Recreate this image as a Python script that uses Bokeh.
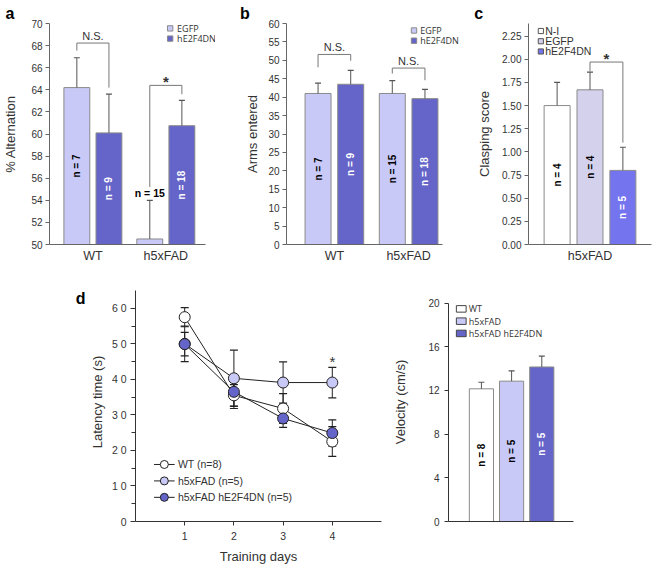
import numpy as np
from bokeh.plotting import figure
from bokeh.models import Range1d, FixedTicker, Title, NumeralTickFormatter
from bokeh.core.properties import value
from bokeh.layouts import row, column
from bokeh.embed import file_html
from bokeh.resources import INLINE

# ---------------- data ----------------
# panel a : % alternation
a_groups = ["WT", "h5xFAD"]
a_series = ["EGFP", "hE2F4DN"]
a_egfp = [64.2, 50.5]
a_egfp_err = [2.7, 3.5]
a_dn = [60.1, 60.75]
a_dn_err = [3.5, 2.3]
a_n_egfp = ["n = 7", "n = 15"]
a_n_dn = ["n = 9", "n = 18"]
a_sig = ["N.S.", "*"]
a_sig_level = [68.23, 64.4]
a_sig_left = [67.55, 55.2]
a_sig_right = [64.2, 63.6]

# panel b : arms entered
b_groups = ["WT", "h5xFAD"]
b_egfp = [41.0, 41.0]
b_egfp_err = [2.8, 3.5]
b_dn = [43.5, 39.6]
b_dn_err = [3.8, 2.5]
b_n_egfp = ["n = 7", "n = 15"]
b_n_dn = ["n = 9", "n = 18"]
b_sig = ["N.S.", "N.S."]
b_sig_level = [51.6, 47.9]
b_sig_left = [48.1, 46.4]
b_sig_right = [49.9, 44.6]

# panel c : clasping score
c_group = ["h5xFAD"]
c_series = ["N-I", "EGFP", "hE2F4DN"]
c_mean = [1.50, 1.67, 0.80]
c_err = [0.25, 0.19, 0.25]
c_n = ["n = 4", "n = 4", "n = 5"]
c_sig = "*"
c_sig_level = 1.97
c_sig_left = 1.87
c_sig_right = 1.10

# panel d : latency
days = [1, 2, 3, 4]
d_series = ["WT (n=8)", "h5xFAD (n=5)", "h5xFAD hE2F4DN (n=5)"]
d_wt = [57.5, 35.5, 31.8, 22.5]
d_wt_err = [2.7, 3.0, 4.2, 4.2]
d_h5 = [50.0, 40.3, 39.1, 39.1]
d_h5_err = [5.0, 7.9, 5.8, 4.3]
d_dn = [49.9, 36.5, 29.0, 24.9]
d_dn_err = [3.3, 4.7, 2.5, 3.7]
d_yticks = [0, 10, 20, 30, 40, 50, 60]
d_ylabels = ["0", "1 0", "2 0", "3 0", "4 0", "5 0", "6 0"]
d_sig_day = 4

# panel velocity
v_series = ["WT", "h5xFAD", "h5xFAD hE2F4DN"]
v_mean = [12.15, 12.85, 14.15]
v_err = [0.6, 0.95, 1.0]
v_n = ["n = 8", "n = 5", "n = 5"]

# ---------------- styling ----------------
LIGHT = "#c9c9f7"
DARK = "#6565c9"
C_EGFP = "#d4d1ec"
C_DN = "#7474ee"
EDGE = "#8a8a8a"
ERR = "#555555"
AX = "#666666"
TXT = "#333333"
FONT = "Liberation Sans"
LFONT = "Open Sans"

SX = 652 / 668
SY = 566 / 582
FRAMES = {}


def make_fig(box, frame, xr, yr, axes=True):
    bx0, by0, bx1, by1 = box
    fx0, fy0, fx1, fy1 = frame
    W = round(bx1 * SX) - round(bx0 * SX)
    H = round(by1 * SY) - round(by0 * SY)
    kw = {} if axes else dict(x_axis_location=None, y_axis_location=None)
    p = figure(width=W, height=H, x_range=Range1d(*xr), y_range=Range1d(*yr),
               output_backend="svg", toolbar_location=None, title=None,
               min_border_left=round(fx0 * SX) - round(bx0 * SX),
               min_border_right=round(bx1 * SX) - round(fx1 * SX),
               min_border_top=round(fy0 * SY) - round(by0 * SY),
               min_border_bottom=round(by1 * SY) - round(fy1 * SY), **kw)
    p.xgrid.visible = False
    p.ygrid.visible = False
    p.outline_line_color = None
    p.background_fill_color = "white"
    p.border_fill_color = "white"
    for ax in p.axis:
        ax.axis_line_color = AX
        ax.major_tick_line_color = AX
        ax.minor_tick_line_color = None
        ax.major_tick_in = 0
        ax.major_tick_out = 4
        ax.major_label_text_font = FONT
        ax.major_label_text_font_size = "10px"
        ax.major_label_text_color = TXT
        ax.axis_label_text_font = FONT
        ax.axis_label_text_font_size = "13px"
        ax.axis_label_text_font_style = "normal"
        ax.axis_label_text_color = TXT
    FRAMES[p.id] = frame
    return p


def px2data(p, px, py):
    fx0, fy0, fx1, fy1 = FRAMES[p.id]
    xr, yr = p.x_range, p.y_range
    x = xr.start + (px - fx0) / (fx1 - fx0) * (xr.end - xr.start)
    y = yr.end - (py - fy0) / (fy1 - fy0) * (yr.end - yr.start)
    return x, y


def letter_title(p, txt, px):
    fx0 = FRAMES[p.id][0]
    p.add_layout(Title(text=txt, align="left", offset=(px - fx0) * SX, standoff=0,
                       vertical_align="top", text_font=FONT, text_font_size="16px",
                       text_font_style="bold", text_color="black"), "above")


def cat_xaxis(p, ticks, labels):
    p.xaxis.ticker = FixedTicker(ticks=[float(t) for t in ticks])
    p.xaxis.major_label_overrides = {int(t): l for t, l in zip(ticks, labels)}
    p.xaxis.major_tick_out = 0
    p.xaxis.major_tick_line_color = None
    p.xaxis.major_label_standoff = 4
    p.xaxis.major_label_text_font_size = "12.5px"


def box_legend(p, labels, fills, glyph_left, first_center, pitch, sw, sh, gap, font, size,
               edge=EDGE):
    for i, (lab, fill) in enumerate(zip(labels, fills)):
        cy = first_center + i * pitch
        gx, gy = px2data(p, glyph_left + sw / 2, cy)
        p.rect(x=[gx], y=[gy], width=sw * SX, height=sh * SY, width_units="screen",
               height_units="screen", fill_color=fill, line_color=edge, line_width=1)
        tx, ty = px2data(p, glyph_left + sw + gap, cy)
        p.text(x=[tx], y=[ty], text=[lab], text_align="left", text_baseline="middle",
               text_font=value(font), text_font_size=size, text_color=TXT)


def bars_with_err(p, xs, tops, errs, base, width, fill, ncols, ntexts):
    xs = np.asarray(xs, float)
    tops = np.asarray(tops, float)
    errs = np.asarray(errs, float)
    r = p.vbar(x=xs, top=tops, bottom=base, width=width, fill_color=fill,
               line_color=EDGE, line_width=1)
    p.segment(x0=xs, y0=tops, x1=xs, y1=tops + errs, line_color=ERR, line_width=1)
    p.scatter(x=xs, y=tops + errs, marker="dash", size=6, line_color=ERR, line_width=1.2)
    span = 20.0 if base == 50 else (tops + errs).max() * 1.4
    tall = (tops - base) > 0.12 * span
    if tall.any():
        p.text(x=xs[tall], y=((tops + base) / 2)[tall], text=list(np.array(ntexts)[tall]),
               angle=90, angle_units="deg", text_align="center", text_baseline="middle",
               text_font=value(FONT), text_font_style="bold", text_font_size="10px",
               text_color=list(np.array(ncols)[tall]))
    if (~tall).any():
        p.text(x=xs[~tall], y=(tops + errs)[~tall], text=list(np.array(ntexts)[~tall]),
               text_align="center", text_baseline="bottom", y_offset=-1,
               text_font=value(FONT), text_font_style="bold", text_font_size="10.5px",
               text_color="black")
    return r


def bracket(p, xl, xr_, yl, level, yr_, txt):
    p.line(x=[xl, xl, xr_, xr_], y=[yl, level, level, yr_], line_color="#777777", line_width=1)
    star = txt == "*"
    p.text(x=[(xl + xr_) / 2], y=[level], text=[txt], text_align="center",
           text_baseline="bottom", y_offset=5 if star else -1,
           text_font=value(FONT), text_font_size="15px" if star else "11px",
           text_font_style="bold" if star else "normal", text_color=TXT)


# ---------------- panel a ----------------
OFF = 0.22
BW = 0.355
pa = make_fig((0, 0, 220, 290), (47, 24, 220, 250.7), (-0.595, 1.681), (50, 70))
xg = np.arange(len(a_groups))
bars_with_err(pa, xg - OFF, a_egfp, a_egfp_err, 50, BW, LIGHT, ["black"] * 2, a_n_egfp)
bars_with_err(pa, xg + OFF, a_dn, a_dn_err, 50, BW, DARK, ["white"] * 2, a_n_dn)
for i in range(len(a_groups)):
    bracket(pa, xg[i] - OFF, xg[i] + OFF, a_sig_left[i], a_sig_level[i], a_sig_right[i], a_sig[i])
pa.yaxis.ticker = FixedTicker(ticks=list(range(50, 71, 2)))
pa.yaxis.major_label_standoff = 3
pa.yaxis.axis_label = "% Alternation"
pa.yaxis.axis_label_standoff = 10
cat_xaxis(pa, xg, a_groups)
pa.xaxis.bounds = (-0.595, 1.549)
box_legend(pa, a_series, [LIGHT, DARK], 170, 29, 10.5, 5.5, 5.5, 4.5, LFONT, "9px")
letter_title(pa, "a", 2)

# ---------------- panel b ----------------
pb = make_fig((220, 0, 478, 290), (292.7, 23.3, 478, 250.7), (-0.645, 1.793), (0, 60))
xg = np.arange(len(b_groups))
bars_with_err(pb, xg - OFF, b_egfp, b_egfp_err, 0, 0.35, LIGHT, ["black"] * 2, b_n_egfp)
bars_with_err(pb, xg + OFF, b_dn, b_dn_err, 0, 0.35, DARK, ["white"] * 2, b_n_dn)
for i in range(len(b_groups)):
    bracket(pb, xg[i] - OFF, xg[i] + OFF, b_sig_left[i], b_sig_level[i], b_sig_right[i], b_sig[i])
pb.yaxis.ticker = FixedTicker(ticks=list(range(0, 61, 5)))
pb.yaxis.major_label_standoff = 3
pb.yaxis.axis_label = "Arms entered"
pb.yaxis.axis_label_standoff = 5
cat_xaxis(pb, xg, b_groups)
pb.xaxis.bounds = (-0.645, 1.451)
box_legend(pb, a_series, [LIGHT, DARK], 420.5, 30.5, 10.5, 5.5, 5.5, 3.5, LFONT, "9px")
letter_title(pb, "b", 245)

# ---------------- panel c ----------------
pc = make_fig((478, 0, 668, 290), (540.7, 24, 666.7, 250.7), (-1.87, 1.87), (0, 2.386))
xc = np.arange(len(c_series)) - 1.0
c_fill = ["white", C_EGFP, C_DN]
c_txt = ["black", "black", "white"]
for i in range(len(c_series)):
    bars_with_err(pc, [xc[i]], [c_mean[i]], [c_err[i]], 0, 0.79,
                  c_fill[i], [c_txt[i]], [c_n[i]])
bracket(pc, xc[1], xc[2], c_sig_left, c_sig_level, c_sig_right, c_sig)
pc.yaxis.ticker = FixedTicker(ticks=[0, 0.25, 0.5, 0.75, 1.0, 1.25, 1.5, 1.75, 2.0, 2.25])
pc.yaxis.formatter = NumeralTickFormatter(format="0.00")
pc.yaxis.major_label_standoff = 3
pc.yaxis.axis_label = "Clasping score"
pc.yaxis.axis_label_standoff = 7
cat_xaxis(pc, [0], c_group)
box_legend(pc, c_series, c_fill, 550.7, 31.7, 10.5, 5.3, 5.3, 1.8, FONT, "10.5px", edge="#555555")
letter_title(pc, "c", 485)

# ---------------- panel d (letter strip) ----------------
D_TOP = 290
D_BOT = 537.3
D_YEND = 65 + (298.3 - D_TOP) / ((537.3 - 298.3) / 65)
pl = make_fig((0, 290, 88, 582), (0, D_TOP, 88, D_BOT), (0, 1), (0, D_YEND), axes=False)
lx, ly = px2data(pl, 77, 307)
pl.text(x=[lx], y=[ly], text=["d"], text_baseline="alphabetic", text_align="left",
        text_font=value(FONT), text_font_size="16px", text_font_style="bold",
        text_color="black")

# ---------------- panel d ----------------
pd_ = make_fig((88, 290, 400, 582), (132.3, D_TOP, 390, D_BOT), (0, 5), (0, D_YEND))
series = [(d_wt, d_wt_err, "white"), (d_h5, d_h5_err, LIGHT), (d_dn, d_dn_err, DARK)]
for vals, errs, col in series:
    v = np.asarray(vals, float)
    e = np.asarray(errs, float)
    pd_.line(days, v, line_color="#222222", line_width=1)
    pd_.segment(x0=days, y0=v - e, x1=days, y1=v + e, line_color="#222222", line_width=1)
    pd_.scatter(x=days, y=v + e, marker="dash", size=8, line_color="#222222", line_width=1.2)
    pd_.scatter(x=days, y=v - e, marker="dash", size=8, line_color="#222222", line_width=1.2)
for vals, errs, col in series:
    pd_.scatter(x=days, y=vals, marker="circle", size=11, fill_color=col,
                line_color="#222222", line_width=1)
k = days.index(d_sig_day)
pd_.text(x=[d_sig_day], y=[d_h5[k] + d_h5_err[k]], text=["*"], text_align="center",
         text_baseline="bottom", y_offset=3, text_font=value(FONT), text_font_size="15px",
         text_color=TXT)
for ax in pd_.axis:
    ax.axis_line_color = "#333333"
    ax.major_tick_line_color = "#333333"
pd_.yaxis.bounds = (0, 65)
pd_.yaxis.ticker = FixedTicker(ticks=d_yticks, minor_ticks=list(range(5, 60, 10)))
pd_.yaxis.major_label_overrides = {t: l for t, l in zip(d_yticks, d_ylabels)}
pd_.yaxis.minor_tick_line_color = "#333333"
pd_.yaxis.minor_tick_in = 0
pd_.yaxis.minor_tick_out = 4
pd_.yaxis.major_tick_out = 5
pd_.yaxis.major_label_standoff = 4
pd_.yaxis.major_label_text_font_size = "10.5px"
pd_.yaxis.axis_label = "Latency time (s)"
pd_.yaxis.axis_label_standoff = 4
pd_.xaxis.ticker = FixedTicker(ticks=days)
pd_.xaxis.major_tick_out = 4
pd_.xaxis.major_label_standoff = 6
pd_.xaxis.major_label_text_font_size = "10.5px"
pd_.xaxis.axis_label = "Training days"
pd_.xaxis.axis_label_standoff = 6
# legend of panel d
d_cols = [c for _, _, c in series]
for i, lab in enumerate(d_series):
    cy = 478.3 + i * 17
    x0, y0 = px2data(pd_, 151.7, cy)
    x1, _ = px2data(pd_, 173.3, cy)
    xm, _ = px2data(pd_, 162.5, cy)
    xt, _ = px2data(pd_, 176.7, cy)
    pd_.segment(x0=[x0], y0=[y0], x1=[x1], y1=[y0], line_color="#222222", line_width=1)
    pd_.scatter(x=[xm], y=[y0], marker="circle", size=8, fill_color=d_cols[i],
                line_color="#222222", line_width=1)
    pd_.text(x=[xt], y=[y0], text=[lab], text_align="left", text_baseline="middle",
             text_font=value(FONT), text_font_size="10.5px", text_color=TXT)

# ---------------- panel velocity ----------------
V_SCALE = (538.3 - 312.3) / 20
pv = make_fig((400, 290, 668, 582), (459.3, D_TOP, 586.7, D_BOT), (-2.09, 2.05),
              (0, (D_BOT - D_TOP) / V_SCALE))
xv = np.arange(len(v_series)) - 1.0
v_fill = ["white", LIGHT, DARK]
v_txt = ["black", "black", "white"]
for i in range(len(v_series)):
    bars_with_err(pv, [xv[i]], [v_mean[i]], [v_err[i]], 0, 0.8,
                  v_fill[i], [v_txt[i]], [v_n[i]])
pv.yaxis.bounds = (0, 20)
pv.yaxis.ticker = FixedTicker(ticks=[0, 4, 8, 12, 16, 20])
pv.yaxis.major_label_standoff = 5
pv.yaxis.axis_label = "Velocity (cm/s)"
pv.yaxis.axis_label_standoff = 17
pv.xaxis.ticker = FixedTicker(ticks=[])
pv.xaxis.major_tick_line_color = None
for ax in pv.axis:
    ax.axis_line_color = "#333333"
    ax.major_tick_line_color = "#333333"
box_legend(pv, v_series, v_fill, 467.3, 317.3, 12.7, 10, 6.7, 2.7, LFONT, "9px",
           edge="#444444")

layout = column(row(pa, pb, pc), row(pl, pd_, pv))
open("out.html", "w").write(file_html(layout, INLINE))
